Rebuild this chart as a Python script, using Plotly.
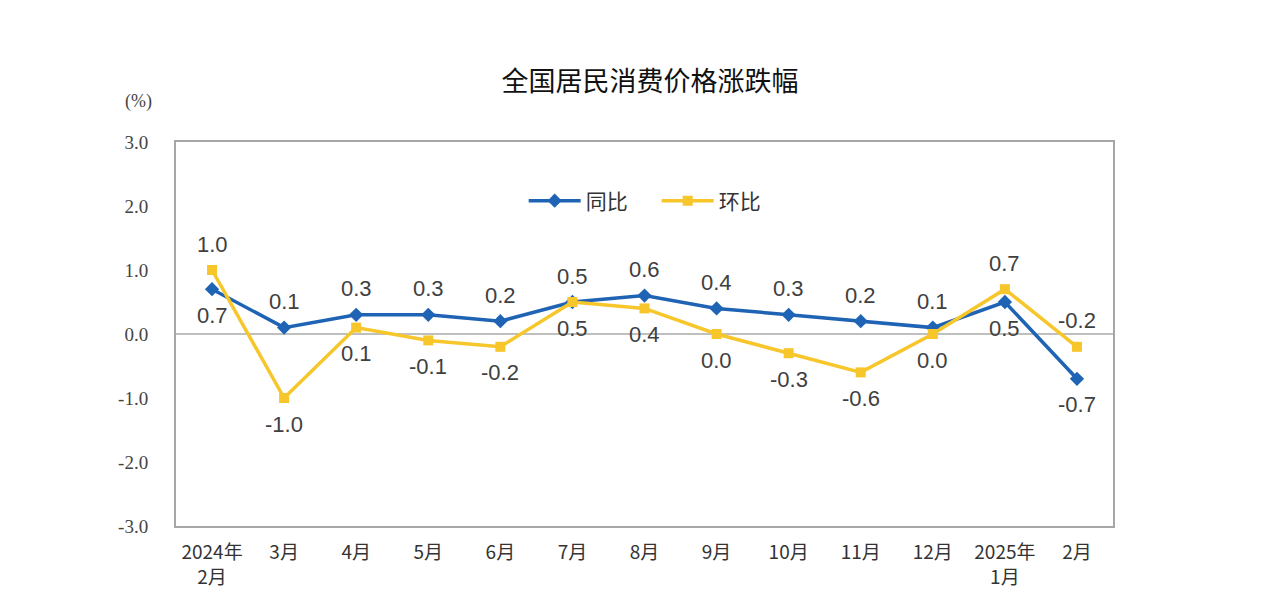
import plotly.graph_objects as go

categories = ["2024年<br>2月", "3月", "4月", "5月", "6月", "7月", "8月", "9月",
              "10月", "11月", "12月", "2025年<br>1月", "2月"]
yoy = [0.7, 0.1, 0.3, 0.3, 0.2, 0.5, 0.6, 0.4, 0.3, 0.2, 0.1, 0.5, -0.7]
mom = [1.0, -1.0, 0.1, -0.1, -0.2, 0.5, 0.4, 0.0, -0.3, -0.6, 0.0, 0.7, -0.2]
yoy_side = [-1, 1, 1, 1, 1, 1, 1, 1, 1, 1, 1, -1, -1]
mom_side = [1, -1, -1, -1, -1, -1, -1, -1, -1, -1, -1, 1, 1]
y_ticks = [3.0, 2.0, 1.0, 0.0, -1.0, -2.0, -3.0]

BLUE = "#1f63b5"
YELLOW = "#f6c62b"

x = list(range(len(categories)))

fig = go.Figure()
fig.add_trace(go.Scatter(x=x, y=yoy, name="同比", mode="lines+markers",
                         line=dict(color=BLUE, width=3.5),
                         marker=dict(symbol="diamond", size=11, color=BLUE)))
fig.add_trace(go.Scatter(x=x, y=mom, name="环比", mode="lines+markers",
                         line=dict(color=YELLOW, width=3.5),
                         marker=dict(symbol="square", size=10, color=YELLOW)))

annotations = []
for vals, sides in ((yoy, yoy_side), (mom, mom_side)):
    for i, (v, s) in enumerate(zip(vals, sides)):
        annotations.append(dict(x=i, y=v, text=f"{v:.1f}", showarrow=False,
                                yshift=26 * s, xref="x", yref="y",
                                font=dict(family="Liberation Sans, Arial", size=22, color="#404040")))
annotations.append(dict(x=(138 - 176) / (1113 - 176), y=(526 - 102) / (526 - 142),
                        xref="paper", yref="paper", text="(%)", showarrow=False,
                        xanchor="center", yanchor="middle",
                        font=dict(family="Liberation Serif", size=18, color="#444")))

fig.update_layout(
    width=1264, height=612,
    margin=dict(l=176, r=151, t=142, b=86),
    paper_bgcolor="white", plot_bgcolor="white",
    title=dict(text="全国居民消费价格涨跌幅", x=650 / 1264, xanchor="center",
               y=1 - 82 / 612, yanchor="middle",
               font=dict(family="Noto Sans CJK SC", size=27, color="#111")),
    showlegend=True,
    legend=dict(orientation="h", x=0.513, xanchor="center", y=(526 - 201) / 384, yanchor="middle",
                font=dict(family="Noto Sans CJK SC", size=21, color="#333"),
                bgcolor="rgba(0,0,0,0)", itemwidth=52, entrywidth=66),
    annotations=annotations,
    xaxis=dict(tickmode="array", tickvals=x, ticktext=categories, range=[-0.5, 12.5],
               showgrid=False, zeroline=False, showline=True, linecolor="#a6a6a6", linewidth=2,
               mirror=True, ticks="", ticklabelstandoff=8,
               tickfont=dict(family="Noto Sans CJK SC", size=19, color="#333")),
    yaxis=dict(range=[-3, 3], tickvals=y_ticks, ticktext=[f"{t:.1f}" for t in y_ticks],
               showgrid=False, zeroline=True, zerolinecolor="#bfbfbf", zerolinewidth=2,
               showline=True, linecolor="#a6a6a6", linewidth=2, mirror=True, ticks="",
               ticklabelstandoff=22,
               tickfont=dict(family="Liberation Serif", size=19, color="#444")),
)

fig.write_html("out.html")
